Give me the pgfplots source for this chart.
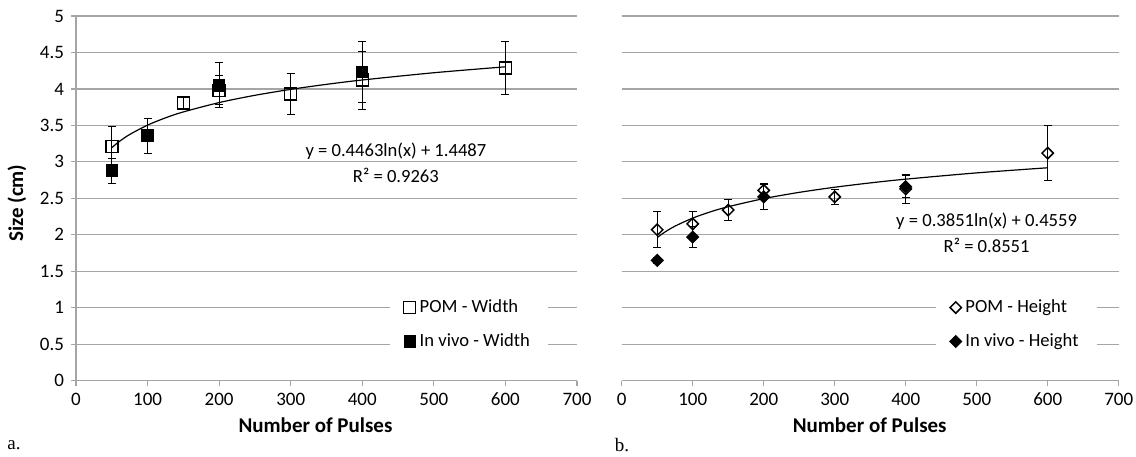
\documentclass[border=0pt]{standalone}
\usepackage{pgfplots}
\pgfplotsset{compat=1.18}
\usepackage{fontspec}
\setmainfont{Carlito}
\newfontfamily\seriffont{Liberation Serif}

\definecolor{gridgray}{RGB}{165,165,165}

\pgfplotsset{
  excelstyle/.style={
    scale only axis,
    height=182.35pt,
    xmin=0, xmax=700, ymin=0, ymax=5,
    xtick={0,100,...,700},
    ytick={0,0.5,...,5},
    axis x line*=bottom,
    axis y line*=left,
    axis line style={gridgray, line width=0.6pt},
    ymajorgrids,
    grid style={gridgray, line width=0.6pt},
    tick align=outside,
    major tick length=2.5pt,
    tick style={gridgray, line width=0.6pt},
    tick label style={font=\fontsize{9.5}{10}\selectfont, black},
    /pgf/number format/assume math mode=true,
    legend cell align=left,
    legend image code/.code={\draw[##1] plot coordinates {(0cm,0cm)};},
    legend style={draw=none, fill=white, anchor=center,
      font=\fontsize{9.3}{11}\selectfont, row sep=5pt,
      inner xsep=7pt, inner ysep=3pt},
  },
  ebar/.style={
    error bars/y dir=both, error bars/y explicit,
    error bars/error bar style={black, line width=0.5pt},
    error bars/error mark options={rotate=90, mark size=2pt, black, line width=0.5pt},
  },
  trend/.style={black, line width=0.6pt, smooth, no marks, forget plot},
}

\begin{document}
\begin{tikzpicture}
\useasboundingbox (-38pt,-37.65pt) rectangle (530pt,190.35pt);

% a. width
\begin{axis}[excelstyle, width=250.5pt,
  xlabel={Number of Pulses}, ylabel={Size (cm)},
  every axis x label/.style={at={(axis description cs:0.478,-0.1426)}, anchor=base,
    font=\fontsize{10.5}{12}\selectfont\bfseries},
  every axis y label/.style={at={(axis description cs:-0.118,0.487)}, rotate=90, anchor=center,
    font=\fontsize{10.5}{12}\selectfont\bfseries},
  legend style={at={(0.784,0.154)}}]
  % trendline y = 0.4463ln(x) + 1.4487
  \addplot[trend] coordinates {(50,3.1946) (60,3.2760) (75,3.3756) (100,3.5040) (125,3.6036) (150,3.6849) (200,3.8133) (250,3.9129) (300,3.9943) (350,4.0631) (400,4.1227) (500,4.2223) (600,4.3036)};
  \addplot[only marks, mark=square, mark size=3pt, mark options={black, line width=0.75pt}, ebar]
    coordinates {(50,3.21) +- (0,0.27) (150,3.81) +- (0,0.08) (200,3.98) +- (0,0.20) (300,3.93) +- (0,0.28) (400,4.12) +- (0,0.40) (600,4.29) +- (0,0.36)};
  \addlegendentry{POM - Width}
  \addplot[only marks, mark=square*, mark size=2.8pt, mark options={black, fill=black, line width=0.6pt}, ebar]
    coordinates {(50,2.88) +- (0,0.17) (100,3.36) +- (0,0.24) (200,4.05) +- (0,0.31) (400,4.23) +- (0,0.42)};
  \addlegendentry{In vivo - Width}
  \node[font=\fontsize{9.3}{11}\selectfont] at (axis cs:447,3.14) {y = 0.4463ln(x) + 1.4487};
  \node[font=\fontsize{9.3}{11}\selectfont] at (axis cs:447,2.82) {R² = 0.9263};
\end{axis}

% b. height
\begin{axis}[excelstyle, width=248.5pt, at={(272.85pt,0)},
  y axis line style={draw=none}, ytick style={draw=none}, yticklabels={},
  xlabel={Number of Pulses},
  every axis x label/.style={at={(axis description cs:0.499,-0.1426)}, anchor=base,
    font=\fontsize{10.5}{12}\selectfont\bfseries},
  legend style={at={(0.794,0.154)}}]
  % trendline y = 0.3851ln(x) + 0.4559
  \addplot[trend] coordinates {(50,1.9624) (60,2.0326) (75,2.1186) (100,2.2294) (125,2.3153) (150,2.3855) (200,2.4963) (250,2.5822) (300,2.6524) (350,2.7118) (400,2.7632) (500,2.8492) (600,2.9193)};
  \addplot[only marks, mark=square, mark size=2pt, mark options={rotate=45, black, line width=0.75pt}, ebar]
    coordinates {(50,2.07) +- (0,0.25) (100,2.15) +- (0,0.17) (150,2.34) +- (0,0.15) (200,2.61) +- (0,0.10) (300,2.52) +- (0,0.10) (400,2.63) +- (0,0.20) (600,3.12) +- (0,0.38)};
  \addlegendentry{POM - Height}
  \addplot[only marks, mark=square*, mark size=2pt, mark options={rotate=45, black, fill=black, line width=0.75pt}, ebar]
    coordinates {(50,1.65) +- (0,0.04) (100,1.97) +- (0,0.15) (200,2.52) +- (0,0.17) (400,2.66) +- (0,0.15)};
  \addlegendentry{In vivo - Height}
  \node[font=\fontsize{9.3}{11}\selectfont] at (axis cs:514,2.19) {y = 0.3851ln(x) + 0.4559};
  \node[font=\fontsize{9.3}{11}\selectfont] at (axis cs:514,1.86) {R² = 0.8551};
\end{axis}

\node[font=\seriffont\fontsize{9.5}{11}\selectfont] at (-31pt,-32.15pt) {a.};
\node[font=\seriffont\fontsize{9.5}{11}\selectfont] at (273pt,-32.15pt) {b.};
\end{tikzpicture}
\end{document}
